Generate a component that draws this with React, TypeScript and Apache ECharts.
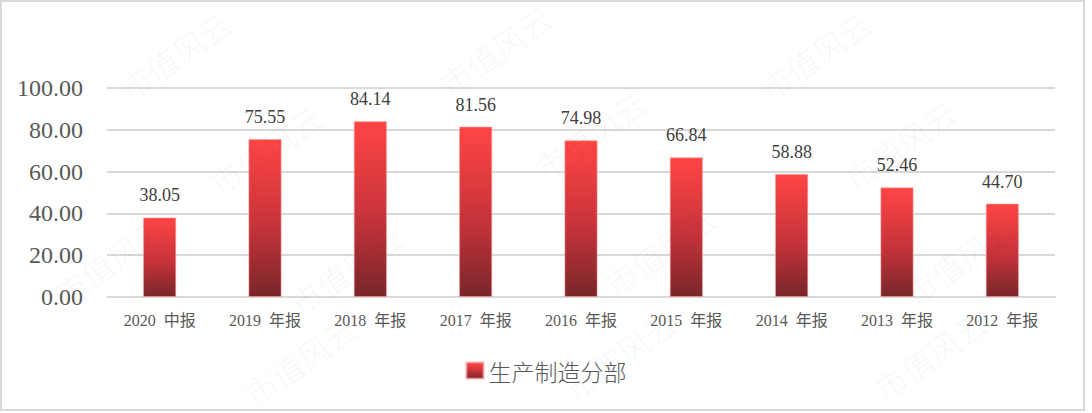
import React, { useEffect, useRef } from "react";
import * as echarts from "echarts";

const categories = ["2020  中报", "2019  年报", "2018  年报", "2017  年报", "2016  年报", "2015  年报", "2014  年报", "2013  年报", "2012  年报"];
const values = [38.05, 75.55, 84.14, 81.56, 74.98, 66.84, 58.88, 52.46, 44.7];
const seriesName = "生产制造分部";
const watermarkText = "市值风云";
const watermarkSpots = [
  [175, 55], [495, 50], [815, 55],
  [265, 150], [590, 135], [900, 145],
  [110, 260], [345, 270], [660, 250], [960, 260],
  [300, 360], [620, 355], [930, 355],
];

const gradient = () =>
  new echarts.graphic.LinearGradient(0, 0, 0, 1, [
    { offset: 0, color: "#ff4545" },
    { offset: 0.55, color: "#c6333a" },
    { offset: 1, color: "#78262a" },
  ]);

export default function App() {
  const ref = useRef<HTMLDivElement>(null);
  useEffect(() => {
    const chart = echarts.init(ref.current!, null, { renderer: "svg" });
    chart.setOption({
      animation: false,
      backgroundColor: "#ffffff",
      grid: { left: 107, right: 37, top: 88, bottom: 116 },
      graphic: [
        {
          type: "rect",
          shape: { x: 1, y: 1, width: 1083, height: 409 },
          style: { fill: "none", stroke: "#d9d9d9", lineWidth: 2 },
          z: -10,
        },
        ...watermarkSpots.map(([x, y]) => ({
          type: "text",
          x,
          y,
          rotation: (35 * Math.PI) / 180,
          style: {
            text: watermarkText,
            fill: "rgba(0,0,0,0.05)",
            font: '300 32px "Noto Sans CJK SC"',
            align: "center",
            verticalAlign: "middle",
          },
          z: 100,
          silent: true,
        })),
      ],
      legend: {
        bottom: 26,
        left: "center",
        itemWidth: 17,
        itemHeight: 16,
        itemGap: 6,
        icon: "rect",
        textStyle: { fontSize: 23, color: "#595959", fontFamily: '"Noto Sans CJK SC"', fontWeight: 300 },
        data: [{ name: seriesName, itemStyle: { color: gradient() } }],
      },
      xAxis: {
        type: "category",
        data: categories,
        axisLine: { lineStyle: { color: "#d9d9d9", width: 2 } },
        axisTick: { show: false },
        axisLabel: {
          margin: 15,
          fontSize: 16,
          color: "#595959",
          fontFamily: '"Liberation Serif", "Noto Sans CJK SC"',
        },
      },
      yAxis: {
        type: "value",
        min: 0,
        max: 100,
        interval: 20,
        axisLine: { show: false },
        axisTick: { show: false },
        splitLine: { lineStyle: { color: "#d9d9d9", width: 2 } },
        axisLabel: {
          margin: 24,
          fontSize: 24,
          color: "#595959",
          fontFamily: '"Liberation Serif"',
          formatter: (v: number) => v.toFixed(2),
        },
      },
      series: [
        {
          name: seriesName,
          type: "bar",
          data: values,
          barWidth: "31.5%",
          itemStyle: { color: gradient(), borderColor: "rgba(255,150,150,0.6)", borderWidth: 1 },
          label: {
            show: true,
            position: "top",
            distance: 13,
            fontSize: 18,
            color: "#404040",
            fontFamily: '"Liberation Serif"',
            formatter: (p: any) => Number(p.value).toFixed(2),
          },
        },
      ],
    });
    return () => chart.dispose();
  }, []);
  return (
    <div
      ref={ref}
      style={{ position: "fixed", left: 0, top: 0, width: 1092, height: 413 }}
    />
  );
}
